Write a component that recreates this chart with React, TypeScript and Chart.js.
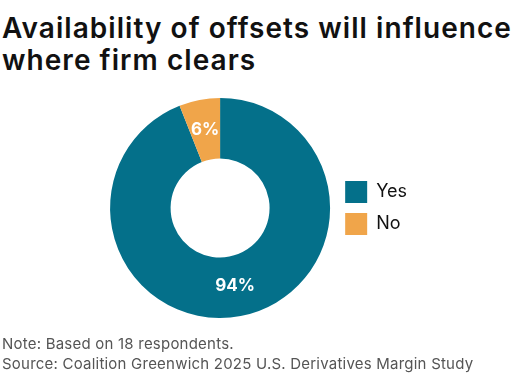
import React, { useEffect, useRef } from 'react';
import { Chart, registerables } from 'chart.js';
Chart.register(...registerables);

const categories = ['Yes', 'No'];
const values = [94, 6];
const valueLabels = ['94%', '6%'];
const colors = ['#04708A', '#F0A54A'];
const titleLines = ['Availability of offsets will influence', 'where firm clears'];
const footnotes = ['Note: Based on 18 respondents.', 'Source: Coalition Greenwich 2025 U.S. Derivatives Margin Study'];

const FONT = 'Inter, "Open Sans", sans-serif';

const sliceLabels = {
  id: 'sliceLabels',
  afterDatasetsDraw(chart: any) {
    const { ctx } = chart;
    const meta = chart.getDatasetMeta(0);
    ctx.save();
    ctx.font = `700 17px ${FONT}`;
    ctx.fillStyle = '#ffffff';
    ctx.textAlign = 'center';
    ctx.textBaseline = 'middle';
    meta.data.forEach((arc: any, i: number) => {
      const p = arc.tooltipPosition();
      ctx.fillText(valueLabels[i], p.x, p.y);
    });
    ctx.restore();
  },
};

export default function App() {
  const ref = useRef<HTMLCanvasElement>(null);
  useEffect(() => {
    document.body.style.margin = '0';
    const chart = new Chart(ref.current!, {
      type: 'doughnut',
      data: {
        labels: categories,
        datasets: [{ data: values, backgroundColor: colors, borderWidth: 0, hoverOffset: 0 }],
      },
      options: {
        responsive: false,
        animation: false,
        cutout: '45%',
        layout: { padding: { top: 98, bottom: 68, left: 105, right: 111 } },
        plugins: {
          tooltip: { enabled: false },
          legend: {
            position: 'right',
            align: 'center',
            labels: {
              boxWidth: 22,
              boxHeight: 22,
              padding: 10,
              color: '#111',
              font: { size: 18, family: FONT },
            },
          },
        },
      },
      plugins: [sliceLabels],
    });
    return () => chart.destroy();
  }, []);
  return (
    <div style={{ position: 'relative', width: 528, height: 386, background: '#fff' }}>
      <div style={{ position: 'absolute', left: 2, top: 12, font: `600 28px/32px ${FONT}`, letterSpacing: '1.05px', color: '#111', whiteSpace: 'nowrap' }}>
        {titleLines.map((t) => <div key={t}>{t}</div>)}
      </div>
      <canvas ref={ref} width={528} height={386} style={{ position: 'absolute', left: 0, top: 0, width: 528, height: 386 }} />
      <div style={{ position: 'absolute', left: 2, top: 334, font: `400 15px/20px ${FONT}`, letterSpacing: '0.22px', color: '#555', whiteSpace: 'nowrap' }}>
        {footnotes.map((t) => <div key={t}>{t}</div>)}
      </div>
    </div>
  );
}
